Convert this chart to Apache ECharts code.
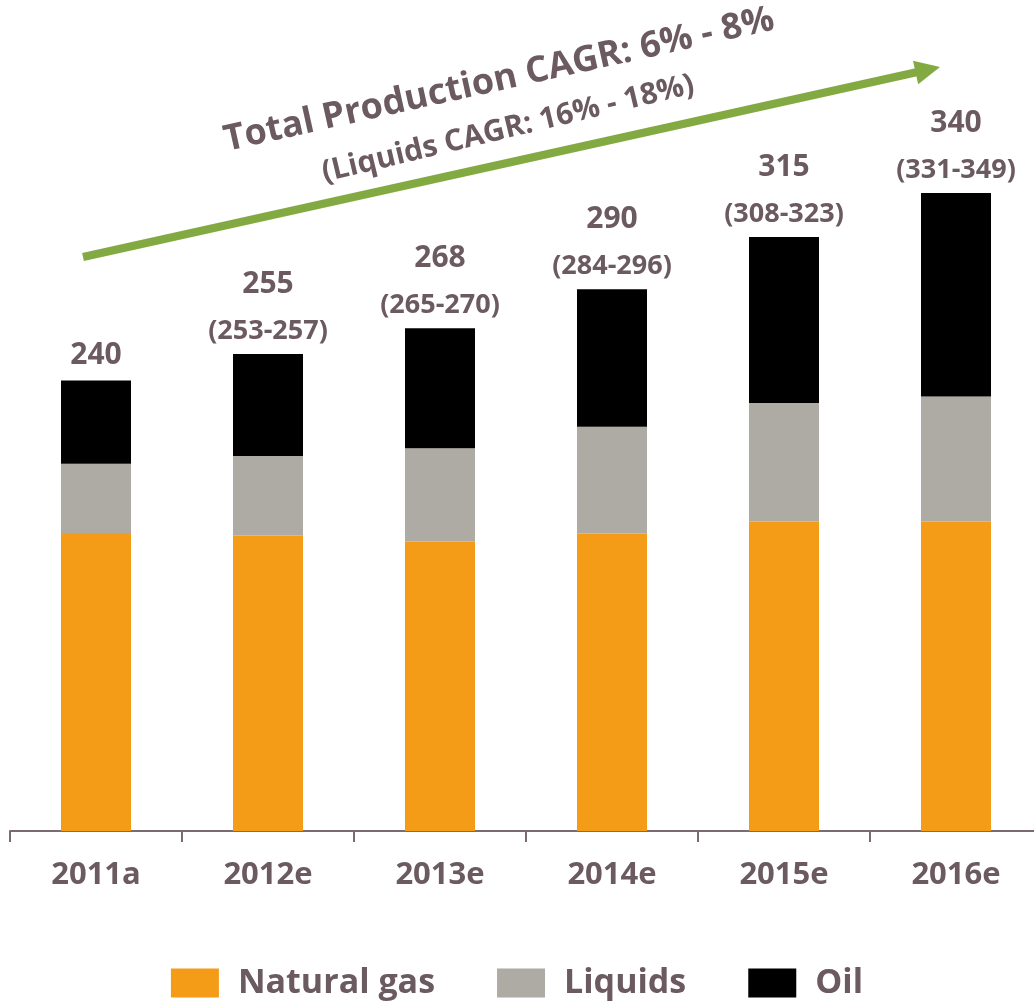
<!DOCTYPE html>
<html>
<head>
<meta charset="utf-8">
<script src="https://cdn.jsdelivr.net/npm/echarts@6/dist/echarts.min.js"></script>
<style>
  html, body { margin: 0; padding: 0; background: #fff; }
  #chart { width: 1034px; height: 1001px; }
</style>
</head>
<body>
<div id="chart"></div>
<script>
// 数据
var years = ['2011a', '2012e', '2013e', '2014e', '2015e', '2016e'];
var naturalGas = [158.7, 157.4, 154.2, 158.5, 164.9, 164.9];
var liquids = [36.9, 42.4, 49.7, 56.8, 63.1, 66.5];
var oil = [44.4, 54.3, 63.9, 73.3, 88.4, 108.4];
var totals = ['240', '255', '268', '290', '315', '340'];
var ranges = ['', '(253-257)', '(265-270)', '(284-296)', '(308-323)', '(331-349)'];

var textColor = '#6b5a60';
var font = '"Open Sans", "DejaVu Sans", sans-serif';
var arrowColor = '#83aa42';

var chart = echarts.init(document.getElementById('chart'));

// 箭头：方向向量
var p0 = [83, 257], tip = [940, 67];
var dx = tip[0] - p0[0], dy = tip[1] - p0[1];
var len = Math.sqrt(dx * dx + dy * dy);
var ux = dx / len, uy = dy / len;
var headLen = 25, headHalf = 12;
var base = [tip[0] - ux * headLen, tip[1] - uy * headLen];

var option = {
  animation: false,
  backgroundColor: '#fff',
  textStyle: { fontFamily: font },
  legend: {
    top: 966,
    left: 'center',
    padding: 0,
    itemWidth: 48,
    itemHeight: 29,
    itemGap: 62,
    icon: 'rect',
    selectedMode: false,
    textStyle: {
      color: textColor,
      fontSize: 34,
      fontWeight: 'bold',
      fontFamily: font,
      lineHeight: 29,
      padding: [0, 0, 0, 14]
    },
    data: ['Natural gas', 'Liquids', 'Oil']
  },
  grid: { left: 10, width: 1032, top: 80, bottom: 170, outerBoundsMode: 'none', containLabel: false },
  xAxis: {
    type: 'category',
    data: years,
    axisLine: { lineStyle: { color: '#7b6b71', width: 2 } },
    axisTick: { show: true, length: 11, lineStyle: { color: '#7b6b71', width: 2 } },
    axisLabel: {
      color: textColor,
      fontSize: 31,
      fontWeight: 'bold',
      fontFamily: font,
      lineHeight: 32,
      margin: 28
    }
  },
  yAxis: { type: 'value', min: 0, max: 400, show: false, splitLine: { show: false } },
  series: [
    {
      name: 'Natural gas', type: 'bar', stack: 'total', barWidth: 70,
      itemStyle: { color: '#f49c17' }, data: naturalGas
    },
    {
      name: 'Liquids', type: 'bar', stack: 'total', barWidth: 70,
      itemStyle: { color: '#aeaaa4' }, data: liquids
    },
    {
      name: 'Oil', type: 'bar', stack: 'total', barWidth: 70,
      itemStyle: { color: '#000' }, data: oil,
      label: {
        show: true,
        position: 'top',
        distance: 3,
        formatter: function (p) {
          var i = p.dataIndex;
          if (!ranges[i]) return '{s|' + totals[i] + '}';
          return '{t|' + totals[i] + '}\n{r|' + ranges[i] + '}';
        },
        rich: {
          s: { color: textColor, fontSize: 30, fontWeight: 'bold', fontFamily: font, lineHeight: 44 },
          t: { color: textColor, fontSize: 30, fontWeight: 'bold', fontFamily: font, lineHeight: 53 },
          r: { color: textColor, fontSize: 27, fontWeight: 'bold', fontFamily: font, lineHeight: 40 }
        }
      }
    }
  ],
  graphic: [
    {
      type: 'line',
      shape: { x1: p0[0], y1: p0[1], x2: base[0] + ux * 2, y2: base[1] + uy * 2 },
      style: { stroke: arrowColor, lineWidth: 8 }
    },
    {
      type: 'polygon',
      shape: {
        points: [
          tip,
          [base[0] - uy * headHalf, base[1] + ux * headHalf],
          [base[0] + uy * headHalf, base[1] - ux * headHalf]
        ]
      },
      style: { fill: arrowColor }
    },
    {
      type: 'text',
      x: 499, y: 80, rotation: 12.5 * Math.PI / 180,
      style: {
        text: 'Total Production CAGR: 6% - 8%',
        fill: textColor, font: 'bold 36px ' + font,
        align: 'center', verticalAlign: 'middle'
      }
    },
    {
      type: 'text',
      x: 508, y: 129, rotation: 13.5 * Math.PI / 180,
      style: {
        text: '(Liquids CAGR: 16% - 18%)',
        fill: textColor, font: 'bold 30px ' + font,
        align: 'center', verticalAlign: 'middle'
      }
    }
  ]
};

chart.setOption(option);
</script>
</body>
</html>
